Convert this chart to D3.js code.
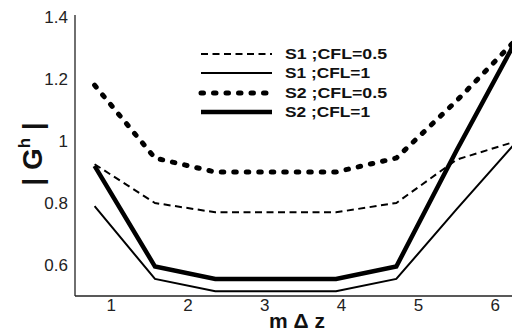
<!DOCTYPE html>
<html>
<head>
<meta charset="utf-8">
<script src="https://cdn.jsdelivr.net/npm/d3@7"></script>
<style>
  body { margin: 0; background: #fff; }
  svg { display: block; }
</style>
</head>
<body>
<svg id="chart" width="512" height="333" font-family="'Liberation Sans', Arial, sans-serif"></svg>
<script>
// m*dz sample points (k*pi/4)
const mdz = [0.785, 1.571, 2.356, 3.142, 3.927, 4.712, 5.498, 6.283];

const s1Cfl05 = [0.925, 0.80, 0.77, 0.77, 0.77, 0.80, 0.94, 1.0];
const s1Cfl1  = [0.79, 0.555, 0.515, 0.515, 0.515, 0.555, 0.78, 1.0];
const s2Cfl05 = [1.18, 0.945, 0.90, 0.90, 0.90, 0.945, 1.13, 1.33];
const s2Cfl1  = [0.92, 0.595, 0.555, 0.555, 0.555, 0.595, 0.97, 1.33];

const seriesNames = ["S1 ;CFL=0.5", "S1 ;CFL=1", "S2 ;CFL=0.5", "S2 ;CFL=1"];
const xTicks = [1, 2, 3, 4, 5, 6];
const yTicks = [0.6, 0.8, 1, 1.2, 1.4];

const styles = [
  { width: 2,   dash: "7 4.5", cap: "butt" },
  { width: 2,   dash: null,    cap: "butt" },
  { width: 5,   dash: "2.5 10", cap: "round" },
  { width: 4.5, dash: null,    cap: "butt" }
];
const legendLen = [102, 85, 102, 85];

const svg = d3.select("#chart");

const x = d3.scaleLinear().domain([0.53, 6.283]).range([75, 517]);
const y = d3.scaleLinear().domain([0.5, 1.4]).range([296, 17]);

const series = [s1Cfl05, s1Cfl1, s2Cfl05, s2Cfl1];

const line = d3.line()
  .x((d, i) => x(mdz[i]))
  .y(d => y(d));

series.forEach((s, i) => {
  svg.append("path")
    .attr("d", line(s))
    .attr("fill", "none")
    .attr("stroke", "#000")
    .attr("stroke-width", styles[i].width)
    .attr("stroke-linecap", styles[i].cap)
    .attr("stroke-linejoin", "miter")
    .attr("stroke-dasharray", styles[i].dash);
});

// axes lines
svg.append("line")
  .attr("x1", 75).attr("x2", 75)
  .attr("y1", 15).attr("y2", y(0.5))
  .attr("stroke", "#222").attr("stroke-width", 1.3);
svg.append("line")
  .attr("x1", 75).attr("x2", 512)
  .attr("y1", y(0.5)).attr("y2", y(0.5))
  .attr("stroke", "#222").attr("stroke-width", 1.3);

// tick labels
svg.selectAll(".ytick")
  .data(yTicks)
  .enter()
  .append("text")
  .attr("x", 68)
  .attr("y", d => y(d))
  .attr("dy", "0.35em")
  .attr("text-anchor", "end")
  .style("font-size", "17px")
  .attr("fill", "#222")
  .text(d => d3.format("")(d));

svg.selectAll(".xtick")
  .data(xTicks)
  .enter()
  .append("text")
  .attr("x", d => x(d))
  .attr("y", 311)
  .attr("text-anchor", "middle")
  .style("font-size", "17px")
  .attr("fill", "#222")
  .text(d => d);

// axis titles
svg.append("text")
  .attr("x", 297)
  .attr("y", 328)
  .attr("text-anchor", "middle")
  .style("font-size", "21px")
  .style("font-weight", "bold")
  .attr("fill", "#111")
  .text("m \u0394 z");

const yl = svg.append("text")
  .attr("transform", "translate(42,154) rotate(-90)")
  .attr("text-anchor", "middle")
  .style("font-size", "28px")
  .style("font-weight", "bold")
  .attr("fill", "#111");
yl.append("tspan").text("| G");
yl.append("tspan").attr("dy", -12).style("font-size", "17px").text("h");
yl.append("tspan").attr("dy", 12).text(" |");

// legend
const legendY = [54, 73, 93, 112];
seriesNames.forEach((name, i) => {
  svg.append("line")
    .attr("x1", 201).attr("x2", 272)
    .attr("y1", legendY[i]).attr("y2", legendY[i])
    .attr("stroke", "#000")
    .attr("stroke-width", styles[i].width)
    .attr("stroke-linecap", styles[i].cap)
    .attr("stroke-dasharray", styles[i].dash);
  svg.append("text")
    .attr("x", 285)
    .attr("y", legendY[i])
    .attr("dy", "0.35em")
    .attr("textLength", legendLen[i])
    .attr("lengthAdjust", "spacingAndGlyphs")
    .style("font-size", "15px")
    .style("font-weight", "bold")
    .attr("fill", "#111")
    .text(name);
});
</script>
</body>
</html>
